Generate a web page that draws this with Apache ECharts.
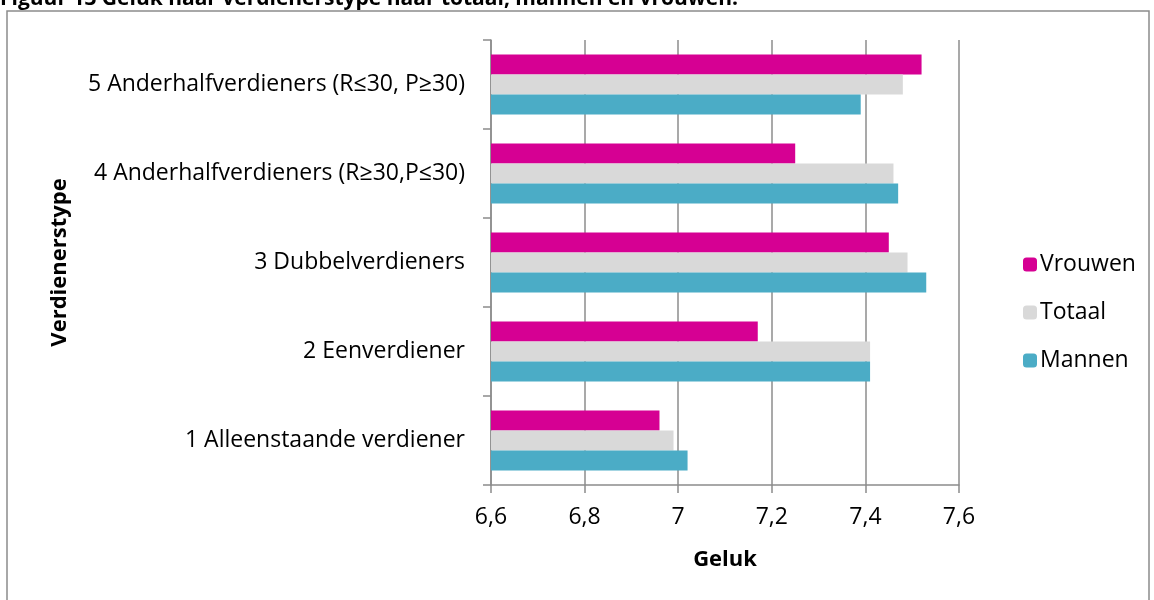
<!DOCTYPE html>
<html>
<head>
<meta charset="utf-8">
<script src="https://cdn.jsdelivr.net/npm/echarts@6/dist/echarts.min.js"></script>
<style>
  html, body { margin: 0; padding: 0; background: #fff; }
  #chart { width: 1154px; height: 600px; }
</style>
</head>
<body>
<div id="chart"></div>
<script>
var categories = [
  '1 Alleenstaande verdiener',
  '2 Eenverdiener',
  '3 Dubbelverdieners',
  '4 Anderhalfverdieners (R≥30,P≤30)',
  '5 Anderhalfverdieners (R≤30, P≥30)'
]
var mannen = [7.02, 7.41, 7.53, 7.47, 7.39]
var totaal = [6.99, 7.41, 7.49, 7.46, 7.48]
var vrouwen = [6.96, 7.17, 7.45, 7.25, 7.52]
var xTicks = [6.6, 7.6, 0.2]

var font = '"Open Sans", Lato, sans-serif'
var chart = echarts.init(document.getElementById('chart'))

function bar(name, data, color) {
  return {
    name: name,
    type: 'bar',
    data: data,
    barWidth: 20,
    barGap: '0%',
    itemStyle: { color: color }
  }
}

chart.setOption({
  animation: false,
  textStyle: { fontFamily: font },
  graphic: [
    {
      type: 'rect',
      shape: { x: 7, y: 11, width: 1142, height: 620 },
      style: { fill: 'none', stroke: '#8c8c8c', lineWidth: 1.5 },
      silent: true
    },
    {
      type: 'text',
      x: 0,
      y: 10,
      style: {
        text: 'Figuur 13 Geluk naar verdienerstype naar totaal, mannen en vrouwen.',
        fontFamily: font,
        fontWeight: 'bold',
        fontSize: 21,
        verticalAlign: 'bottom',
        fill: '#000'
      }
    }
  ],
  legend: {
    orient: 'vertical',
    left: 1018,
    top: 248,
    itemWidth: 14,
    itemHeight: 14,
    itemGap: 25,
    data: ['Vrouwen', 'Totaal', 'Mannen'],
    textStyle: { fontSize: 23, color: '#000', fontFamily: font, padding: [0, 0, 0, -2] }
  },
  grid: { left: 491, right: 195, top: 40, bottom: 115 },
  xAxis: {
    type: 'value',
    min: xTicks[0],
    max: xTicks[1],
    interval: xTicks[2],
    name: 'Geluk',
    nameLocation: 'middle',
    nameGap: 64,
    nameTextStyle: { fontSize: 22, fontWeight: 'bold', color: '#000', fontFamily: font },
    axisLine: { show: true, lineStyle: { color: '#8c8c8c', width: 1.5 } },
    axisTick: { show: true, length: 8, lineStyle: { color: '#8c8c8c', width: 1.5 } },
    splitLine: { show: true, lineStyle: { color: '#8c8c8c', width: 1.5 } },
    axisLabel: {
      fontSize: 23,
      color: '#000',
      margin: 21,
      fontFamily: font,
      formatter: function(v) { return String(Math.round(v * 10) / 10).replace('.', ',') }
    }
  },
  yAxis: {
    type: 'category',
    data: categories,
    name: 'Verdienerstype',
    nameLocation: 'middle',
    nameRotate: 90,
    nameGap: 420,
    nameTextStyle: { fontSize: 22, fontWeight: 'bold', color: '#000', fontFamily: font },
    axisLine: { show: true, lineStyle: { color: '#8c8c8c', width: 1.5 } },
    axisTick: { show: true, length: 8, lineStyle: { color: '#8c8c8c', width: 1.5 } },
    axisLabel: { fontSize: 23, color: '#000', margin: 26, fontFamily: font }
  },
  series: [
    bar('Vrouwen', vrouwen, '#d60093'),
    bar('Totaal', totaal, '#d9d9d9'),
    bar('Mannen', mannen, '#4bacc6')
  ]
})
</script>
</body>
</html>
